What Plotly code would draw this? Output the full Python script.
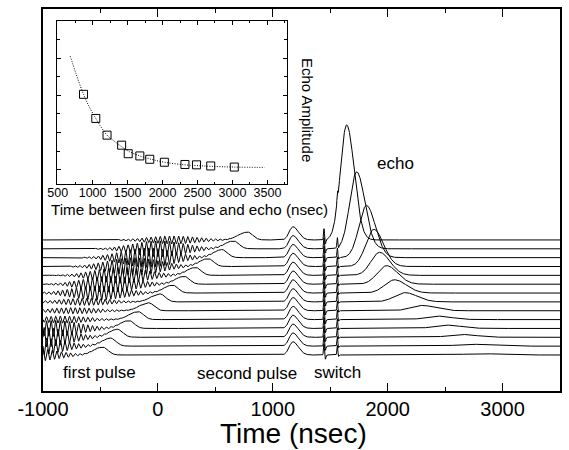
import numpy as np
import plotly.graph_objects as go

# ---- main waterfall: one row per delay, listed top to bottom ----
first_pulse_t = [780, 660, 560, 440, 330, 230, 130, 20, -80, -170, -250, -350, -410, -480]
ringing_t = [130, 10, -90, -210, -320, -420, -520, -630, -730, -820, -900, -1000, -1060, -1130]
ringing_amp = [0.45, 0.9, 1.1, 1.0, 0.9, 0.9, 0.8, 0.4, 0.35, 0.4, 0.9, 1.1, 1.0, 0.8]
echo_t = [1643, 1730, 1815, 1880, 1930, 1990, 2060, 2150, 2300, 2430, 2510, 2640, 2720, 2800]
echo_amp = [13.0, 8.7, 5.9, 4.2, 2.6, 2.1, 1.5, 1.05, 0.6, 0.4, 0.38, 0.32, 0.22, 0.16]
echo_width = [55, 60, 65, 70, 75, 80, 85, 90, 95, 100, 105, 110, 115, 120]
first_pulse_amp = 0.9
second_pulse_t = 1175
second_pulse_amp = 1.5
switch_t = [1446, 1562]
switch_amp = [1.3, 1.1]
ringing_period = 40

# ---- inset: echo amplitude vs time between first pulse and echo ----
delay_ns = [870, 1045, 1206, 1415, 1509, 1675, 1817, 2026, 2320, 2486, 2689, 3026]
amplitude = [2.03, 1.38, 0.93, 0.66, 0.43, 0.37, 0.28, 0.20, 0.14, 0.13, 0.10, 0.07]
fit_x = [680, 760, 870, 950, 1045, 1120, 1206, 1300, 1415, 1509, 1675, 1817, 2026, 2320, 2486, 2689, 3026, 3460]
fit_y = [3.06, 2.6, 2.03, 1.7, 1.38, 1.15, 0.93, 0.78, 0.62, 0.5, 0.37, 0.29, 0.2, 0.13, 0.11, 0.09, 0.07, 0.06]

x_ticks = [-1000, 0, 1000, 2000, 3000]
inset_ticks = [500, 1000, 1500, 2000, 2500, 3000, 3500]

FONT = "Liberation Sans, Arial, sans-serif"
t = np.arange(-1000, 3500.1, 2.5)


def bump(t0, a, rise, fall):
    s = np.where(t < t0, rise, fall)
    return a * np.exp(-0.5 * ((t - t0) / s) ** 2)


fig = go.Figure()
n = len(first_pulse_t)
for i in range(n):
    y = np.zeros_like(t)
    y += ringing_amp[i] * np.exp(-0.5 * ((t - ringing_t[i]) / 230) ** 2) * np.sin(2 * np.pi * (t - ringing_t[i]) / ringing_period)
    y += bump(first_pulse_t[i], first_pulse_amp, 80, 45)
    y += bump(second_pulse_t, second_pulse_amp, 32, 48)
    y += bump(switch_t[0], switch_amp[0], 4, 4) - bump(switch_t[0] + 12, 0.5, 4, 4)
    y += bump(switch_t[1], switch_amp[1], 4, 4) - bump(switch_t[1] + 10, 0.2, 4, 4)
    y += bump(echo_t[i], echo_amp[i], echo_width[i], echo_width[i] * 1.2)
    fig.add_trace(go.Scatter(x=t, y=y + (n - 1 - i), mode="lines",
                             line=dict(color="black", width=1), hoverinfo="skip"))

fig.add_trace(go.Scatter(x=fit_x, y=fit_y, mode="lines", xaxis="x2", yaxis="y2",
                         line=dict(color="black", width=1, dash="1px,1.5px", shape="spline")))
fig.add_trace(go.Scatter(x=delay_ns, y=amplitude, mode="markers", xaxis="x2", yaxis="y2",
                         marker=dict(symbol="square-open", size=8, color="black",
                                     line=dict(width=1, color="black"))))

fig.update_layout(
    width=569, height=450,
    margin=dict(l=43, r=9, t=9, b=59),
    paper_bgcolor="white", plot_bgcolor="white",
    showlegend=False,
    font=dict(family=FONT, color="black"),
    xaxis=dict(range=[-1000, 3500], tickvals=x_ticks, ticktext=[str(v) for v in x_ticks],
               ticks="inside", ticklen=8, tickwidth=1, tickcolor="black", ticklabelstandoff=-1,
               minor=dict(dtick=500, tick0=-1000, ticks="inside", ticklen=4, tickcolor="black"),
               showline=True, linecolor="black", linewidth=1.5, mirror="ticks",
               showgrid=False, zeroline=False, tickfont=dict(size=20), automargin=False),
    yaxis=dict(range=[-4.07, 39.1], showticklabels=False, ticks="",
               showline=True, linecolor="black", linewidth=1.5, mirror=True,
               showgrid=False, zeroline=False, automargin=False),
    xaxis2=dict(domain=[0.027, 0.472], anchor="y2", range=[490, 3780],
                tickvals=inset_ticks, ticktext=[str(v) for v in inset_ticks],
                ticks="inside", ticklen=4, tickcolor="black", ticklabelstandoff=-3,
                minor=dict(dtick=250, tick0=500, ticks="inside", ticklen=2, tickcolor="black"),
                showline=True, linecolor="black", linewidth=1, mirror="ticks",
                showgrid=False, zeroline=False, tickfont=dict(size=12.5), automargin=False),
    yaxis2=dict(domain=[0.542, 0.969], anchor="x2", range=[-0.385, 4.01],
                tick0=0, dtick=1, ticks="inside", ticklen=4, tickcolor="black",
                minor=dict(dtick=0.5, ticks="inside", ticklen=3, tickcolor="black"),
                showticklabels=False, showline=True, linecolor="black", linewidth=1,
                mirror="ticks", showgrid=False, zeroline=False, automargin=False),
)

labels = [("first pulse", 99, 372, 0, 17), ("second pulse", 247, 373, 0, 17),
          ("switch", 337, 372, 0, 17), ("echo", 395, 163, 0, 17),
          ("Echo Amplitude", 308, 110, 90, 15),
          ("Time between first pulse and echo (nsec)", 189, 209, 0, 15.2),
          ("Time (nsec)", 293, 433, 0, 28)]
for text, px, py, ang, size in labels:
    fig.add_annotation(text=text, x=(px - 43) / 517, y=(391 - py) / 382,
                       xref="paper", yref="paper", xanchor="center", yanchor="middle",
                       showarrow=False, textangle=ang,
                       font=dict(size=size, family=FONT, color="black"))

fig.write_html("out.html", config={"displayModeBar": False},
               post_script="document.body.style.margin='0';")
